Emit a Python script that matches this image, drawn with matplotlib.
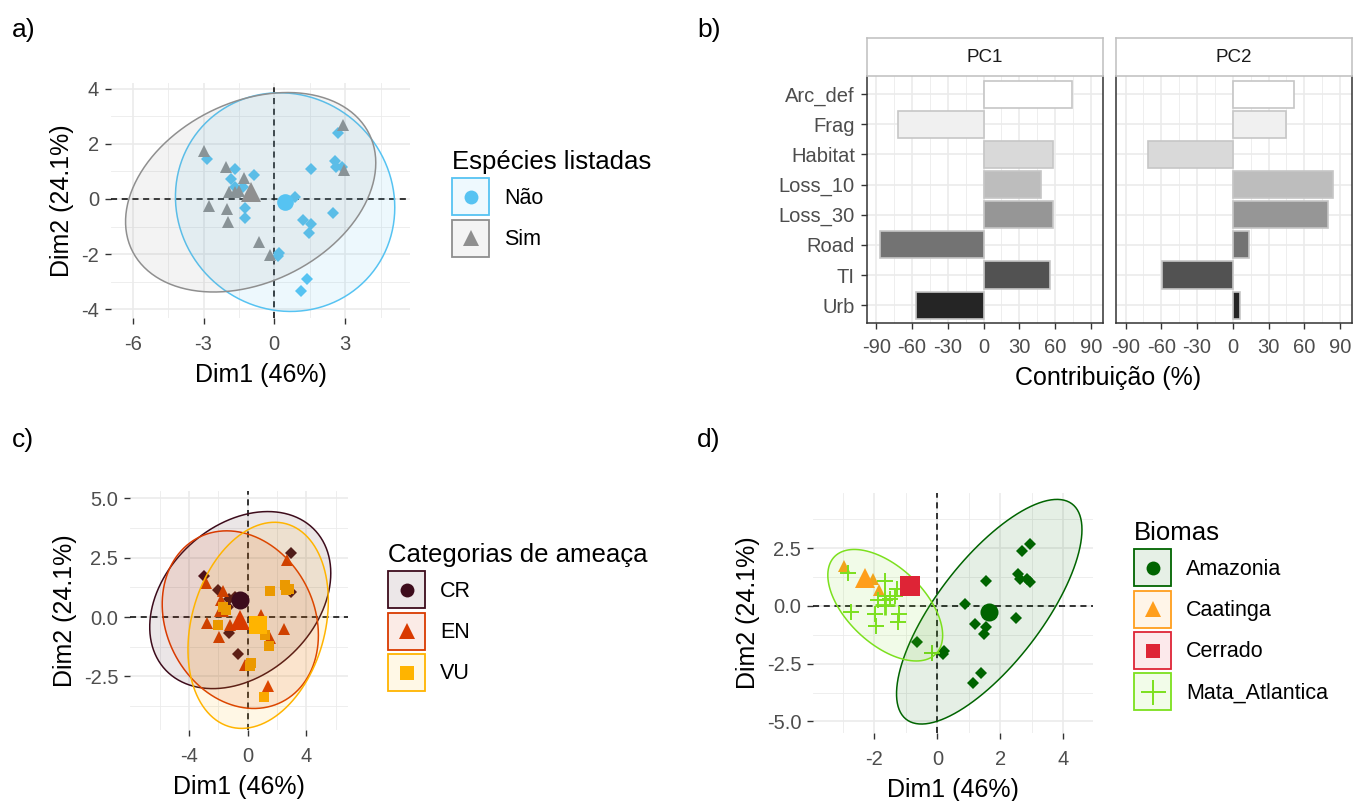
import numpy as np
import matplotlib
matplotlib.use("Agg")
import matplotlib.pyplot as plt
from matplotlib.patches import Polygon, Rectangle
from matplotlib.lines import Line2D
from matplotlib.legend_handler import HandlerBase

plt.rcParams['font.family'] = ['Liberation Sans', 'DejaVu Sans']
plt.rcParams['axes.unicode_minus'] = False

# coordenadas dos individuos no PCA (Dim1, Dim2)
dim1 = [2.93, 2.69, -2.98, -2.84, -2.05, -1.65, 1.55, 2.56, 2.61, 2.85, 2.95, -0.86,
        -1.28, -1.85, -1.67, -1.34, -1.67, -1.90, -1.50, -2.75, -1.99, -1.95, -1.23,
        -1.25, 0.88, 2.50, 1.20, 1.55, 1.47, -0.66, 0.22, 0.17, -0.17, 1.37, 1.14]
dim2 = [2.69, 2.39, 1.74, 1.43, 1.15, 1.10, 1.10, 1.37, 1.15, 1.16, 1.05, 0.86,
        0.75, 0.71, 0.42, 0.42, 0.27, 0.26, 0.30, -0.27, -0.35, -0.85, -0.33,
        -0.68, 0.08, -0.52, -0.76, -0.90, -1.22, -1.56, -1.95, -2.07, -2.02, -2.90, -3.35]
listadas = ['Sim', 'Não', 'Sim', 'Não', 'Sim', 'Não', 'Não', 'Não', 'Não', 'Não', 'Sim', 'Não',
            'Sim', 'Não', 'Não', 'Não', 'Sim', 'Sim', 'Sim', 'Sim', 'Sim', 'Sim', 'Não',
            'Não', 'Não', 'Não', 'Não', 'Não', 'Não', 'Sim', 'Não', 'Não', 'Sim', 'Não', 'Não']
ameaca = ['CR', 'EN', 'CR', 'EN', 'CR', 'EN', 'VU', 'VU', 'VU', 'VU', 'CR', 'CR',
          'CR', 'EN', 'VU', 'CR', 'EN', 'EN', 'VU', 'EN', 'VU', 'EN', 'EN',
          'CR', 'EN', 'EN', 'VU', 'EN', 'VU', 'CR', 'VU', 'VU', 'EN', 'EN', 'VU']
biomas = ['Amazonia', 'Amazonia', 'Caatinga', 'Mata_Atlantica', 'Caatinga', 'Mata_Atlantica',
          'Amazonia', 'Amazonia', 'Amazonia', 'Amazonia', 'Amazonia', 'Cerrado',
          'Mata_Atlantica', 'Caatinga', 'Mata_Atlantica', 'Mata_Atlantica', 'Mata_Atlantica',
          'Mata_Atlantica', 'Mata_Atlantica', 'Mata_Atlantica', 'Mata_Atlantica', 'Mata_Atlantica',
          'Mata_Atlantica', 'Mata_Atlantica', 'Amazonia', 'Amazonia', 'Amazonia', 'Amazonia',
          'Amazonia', 'Amazonia', 'Amazonia', 'Amazonia', 'Mata_Atlantica', 'Amazonia', 'Amazonia']

# contribuicao das variaveis (%)
variaveis = ['Arc_def', 'Frag', 'Habitat', 'Loss_10', 'Loss_30', 'Road', 'TI', 'Urb']
pc1 = [74, -72, 58, 48, 58, -87, 56, -57]
pc2 = [51, 45, -71, 84, 80, 14, -59, 6]
cinzas = ['#ffffff', '#f0f0f0', '#d9d9d9', '#bdbdbd', '#969696', '#737373', '#525252', '#252525']

x = np.array(dim1)
y = np.array(dim2)

W, H = 1354, 801
fig = plt.figure(figsize=(W / 100, H / 100), dpi=100)


def box(l, t, r, b):
    return [l / W, 1 - b / H, (r - l) / W, (b - t) / H]


def ellipse(px, py, level=0.95):
    n = len(px)
    pts = np.column_stack([px, py])
    c = pts.mean(axis=0)
    cov = np.cov(pts.T)
    dfd = n - 1
    f = dfd / 2 * ((1 - level) ** (-2 / dfd) - 1)
    r = np.sqrt(2 * f)
    t = np.linspace(0, 2 * np.pi, 120)
    circ = np.column_stack([np.cos(t), np.sin(t)])
    L = np.linalg.cholesky(cov)
    return c + r * circ @ L.T


class Chave:
    def __init__(self, cor, mk, ms):
        self.cor = cor
        self.mk = mk
        self.ms = ms


class HandlerChave(HandlerBase):
    def create_artists(self, legend, h, xdescent, ydescent, width, height, fontsize, trans):
        rgb = matplotlib.colors.to_rgb(h.cor)
        fundo = tuple(0.9 + 0.1 * c for c in rgb)
        r = Rectangle((-xdescent, -ydescent), width, height, fc=fundo, ec=h.cor, lw=1.3,
                      transform=trans)
        mew = 1.4 if h.mk == '+' else 0
        m = Line2D([-xdescent + width / 2], [-ydescent + height / 2], ls='none', marker=h.mk,
                   ms=h.ms, color=h.cor, mew=mew, transform=trans)
        return [r, m]


def pca_panel(ax, grupo, niveis, cores, forma, tam, forma_m, tam_m, com_elipse,
              xlim, ylim, xmaj, xmin, ymaj, ymin, ylab_fmt):
    grupo = np.array(grupo)
    for nv, cor, mk, ms in zip(niveis, cores, forma, tam):
        sel = grupo == nv
        mew = 1.4 if mk == '+' else 0
        ax.plot(x[sel], y[sel], ls='none', marker=mk, ms=ms, color=cor, mew=mew, zorder=3)
    for nv, cor in zip(niveis, cores):
        sel = grupo == nv
        if nv in com_elipse:
            e = ellipse(x[sel], y[sel])
            ax.add_patch(Polygon(e, closed=True, fc=cor, alpha=0.1, ec='none', zorder=4))
            ax.add_patch(Polygon(e, closed=True, fc='none', ec=cor, lw=1.1, zorder=4))
    for nv, cor, mk, ms in zip(niveis, cores, forma_m, tam_m):
        sel = grupo == nv
        mew = 2.0 if mk == '+' else 0
        ax.plot(x[sel].mean(), y[sel].mean(), ls='none', marker=mk, ms=ms, color=cor,
                mew=mew, zorder=5)
    ax.axhline(0, color='black', ls=(0, (4, 3)), lw=1.1, zorder=2.5)
    ax.axvline(0, color='black', ls=(0, (4, 3)), lw=1.1, zorder=2.5)
    ax.set_xlim(xlim)
    ax.set_ylim(ylim)
    ax.set_xticks(xmaj)
    ax.set_xticklabels([str(v) for v in xmaj])
    ax.set_xticks(xmin, minor=True)
    ax.set_yticks(ymaj)
    ax.set_yticklabels([ylab_fmt % v for v in ymaj])
    ax.set_yticks(ymin, minor=True)
    ax.grid(True, which='major', color='#ebebeb', lw=1.2, zorder=0)
    ax.grid(True, which='minor', color='#ebebeb', lw=0.6, zorder=0)
    ax.set_axisbelow(True)
    for s in ax.spines.values():
        s.set_visible(False)
    ax.tick_params(which='major', length=4.5, width=1, color='#333333', labelcolor='#4d4d4d',
                   labelsize=14.5, pad=4)
    ax.tick_params(axis='x', which='major', pad=8)
    ax.tick_params(which='minor', length=0)
    ax.set_xlabel('Dim1 (46%)', fontsize=18, labelpad=6)
    ax.set_ylabel('Dim2 (24.1%)', fontsize=18, labelpad=5)


def legenda(titulo, niveis, cores, forma_leg, tam_leg, bx, by):
    hs = [Chave(c, m, s) for c, m, s in zip(cores, forma_leg, tam_leg)]
    lg = fig.legend(hs, niveis, loc='upper left', bbox_to_anchor=(bx, by), frameon=False,
                    handler_map={Chave: HandlerChave()},
                    title=titulo, title_fontsize=18.5, fontsize=15.5, alignment='left',
                    handlelength=1.72, handleheight=2.27, labelspacing=0.2,
                    handletextpad=0.7, borderpad=0, borderaxespad=0)
    return lg


# a) especies listadas
ax_a = fig.add_axes(box(111, 83, 410, 318))
cores_a = ['#56c3f2', '#8f8f8f']
pca_panel(ax_a, listadas, ['Não', 'Sim'], cores_a, ['D', '^'], [6, 8.5], ['o', '^'], [12, 14],
          ['Não', 'Sim'], (-6.92, 5.75), (-4.31, 4.2), [-6, -3, 0, 3], [-4.5, -1.5, 1.5, 4.5],
          [-4, -2, 0, 2, 4], [-3, -1, 1, 3], '%d')
legenda('Espécies listadas', ['Não', 'Sim'], cores_a, ['o', '^'], [10, 11], 452 / W, 1 - 150 / H)

# c) categorias de ameaca
ax_c = fig.add_axes(box(130, 491, 348, 730))
cores_c = ['#3d0c1c', '#d93a00', '#ffb400']
pca_panel(ax_c, ameaca, ['CR', 'EN', 'VU'], cores_c, ['D', '^', 's'], [6, 8.5, 7],
          ['o', '^', 's'], [13, 15, 13], ['CR', 'EN', 'VU'], (-8.03, 6.85), (-4.76, 5.31),
          [-4, 0, 4], [-6, -2, 2, 6], [-2.5, 0.0, 2.5, 5.0], [-3.75, -1.25, 1.25, 3.75], '%.1f')
legenda('Categorias de ameaça', ['CR', 'EN', 'VU'], cores_c, ['o', '^', 's'], [10, 11, 10],
        388 / W, 1 - 543 / H)

# d) biomas
ax_d = fig.add_axes(box(813, 493, 1093, 733))
cores_d = ['#006400', '#ff9e1c', '#de2436', '#7ce01e']
niveis_d = ['Amazonia', 'Caatinga', 'Cerrado', 'Mata_Atlantica']
pca_panel(ax_d, biomas, niveis_d, cores_d, ['D', '^', 's', '+'], [6, 8.5, 7, 11],
          ['o', '^', 's', '+'], [13, 15, 15, 15], ['Amazonia', 'Mata_Atlantica'],
          (-3.95, 4.94), (-5.5, 4.89), [-2, 0, 2, 4], [-3, -1, 1, 3],
          [-5.0, -2.5, 0.0, 2.5], [-3.75, -1.25, 1.25, 3.75], '%.1f')
legenda('Biomas', niveis_d, cores_d, ['o', '^', 's', '+'], [10, 11, 10, 18],
        1134 / W, 1 - 521 / H)

# b) contribuicao
ypos = np.arange(len(variaveis))[::-1]
for i, (vals, nome) in enumerate([(pc1, 'PC1'), (pc2, 'PC2')]):
    l = 866.7 if i == 0 else 1116
    ax = fig.add_axes(box(l, 76, l + 236, 323.3))
    ax.barh(ypos, vals, height=0.9, color=cinzas, edgecolor='#c6c6c6', lw=1.2, zorder=3)
    ax.set_xlim(-98, 100)
    ax.set_ylim(-0.6, 7.6)
    ax.set_xticks([-90, -60, -30, 0, 30, 60, 90])
    ax.set_xticklabels(['-90', '-60', '-30', '0', '30', '60', '90'])
    ax.set_xticks([-75, -45, -15, 15, 45, 75], minor=True)
    ax.set_yticks(ypos)
    ax.grid(True, which='major', color='#ebebeb', lw=1.2, zorder=0)
    ax.grid(True, which='minor', axis='x', color='#ebebeb', lw=0.6, zorder=0)
    ax.set_axisbelow(True)
    ax.spines['top'].set_visible(False)
    for s in ['left', 'bottom', 'right']:
        ax.spines[s].set_color('#333333')
        ax.spines[s].set_linewidth(1.1)
    ax.tick_params(which='major', length=4.5, width=1, color='#333333', labelcolor='#4d4d4d',
                   labelsize=14.5, pad=4)
    ax.tick_params(axis='x', which='major', pad=6)
    ax.tick_params(which='minor', length=0)
    if i == 0:
        ax.set_yticklabels(variaveis)
    else:
        ax.set_yticklabels([])
        ax.tick_params(axis='y', length=0)
    st = fig.add_axes(box(l, 38.3, l + 236, 76))
    st.set_xticks([])
    st.set_yticks([])
    for s in st.spines.values():
        s.set_color('#bfbfbf')
        s.set_linewidth(1.1)
    st.text(0.5, 0.5, nome, ha='center', va='center', fontsize=13.5, color='#1a1a1a',
            transform=st.transAxes)

fig.text(1108 / W, 1 - 378 / H, 'Contribuição (%)', ha='center', va='center', fontsize=18)

# rotulos dos paineis
for lab, px, py in [('a)', 12, 30), ('b)', 697, 30), ('c)', 12, 440), ('d)', 697, 440)]:
    fig.text(px / W, 1 - py / H, lab, ha='left', va='center', fontsize=19)

fig.savefig('out.png', dpi=100)
